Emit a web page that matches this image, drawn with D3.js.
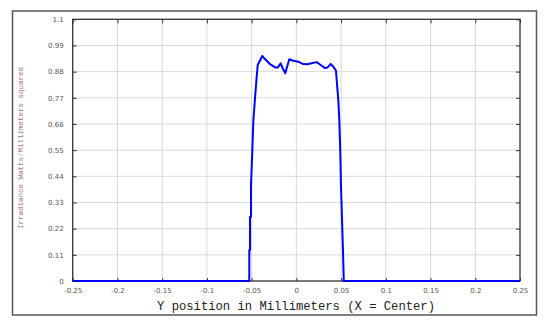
<!DOCTYPE html>
<html><head><meta charset="utf-8">
<script src="https://cdn.jsdelivr.net/npm/d3@7"></script>
<style>body{margin:0;background:#fff}</style>
</head><body>
<svg id="c" width="550" height="330"></svg>
<script>
const xTicks = [-0.25,-0.2,-0.15,-0.1,-0.05,0,0.05,0.1,0.15,0.2,0.25];
const yTicks = [0,0.11,0.22,0.33,0.44,0.55,0.66,0.77,0.88,0.99,1.1];
const posX = [-0.25,-0.0526,-0.0526,-0.0518,-0.0518,-0.0507,-0.0507,-0.0493,-0.0481,-0.0462,-0.0443,-0.0432,-0.0381,-0.0351,-0.0295,-0.0231,-0.0209,-0.0175,-0.0153,-0.0124,-0.0079,-0.0034,0.0022,0.0077,0.0122,0.0171,0.0227,0.0272,0.0320,0.0346,0.0384,0.0413,0.0443,0.0451,0.0469,0.0480,0.0491,0.0499,0.0510,0.0521,0.0529,0.0529,0.25];
const irradiance = [0,0,0.13,0.13,0.27,0.27,0.40,0.54,0.67,0.77,0.86,0.908,0.946,0.933,0.912,0.897,0.897,0.915,0.894,0.873,0.932,0.926,0.922,0.912,0.911,0.915,0.92,0.908,0.895,0.897,0.912,0.901,0.884,0.845,0.76,0.677,0.543,0.40,0.265,0.13,0.02,0,0];

const svg = d3.select("#c");
const L=72.7, R=520, T=19.3, B=281;
const x = d3.scaleLinear().domain([-0.25,0.25]).range([L,R]);
const y = d3.scaleLinear().domain([0,1.1]).range([B,T]);

// outer frame
svg.append("rect").attr("x",12.5).attr("y",11).attr("width",524).attr("height",304)
  .attr("fill","#fff").attr("stroke","#555").attr("stroke-width",1.5);

// grid
svg.append("g").selectAll("line").data(xTicks.slice(1,-1)).join("line")
  .attr("x1",d=>x(d)).attr("x2",d=>x(d)).attr("y1",T).attr("y2",B)
  .attr("stroke","#d8d8d8").attr("stroke-width",1);
svg.append("g").selectAll("line").data(yTicks.slice(1,-1)).join("line")
  .attr("y1",d=>y(d)).attr("y2",d=>y(d)).attr("x1",L).attr("x2",R)
  .attr("stroke","#d8d8d8").attr("stroke-width",1);

// axes with inner ticks
const fmt = d=>String(+d.toFixed(2));
const gB = svg.append("g").attr("transform",`translate(0,${B})`)
  .call(d3.axisBottom(x).tickValues(xTicks).tickSize(-3).tickPadding(7).tickFormat(fmt));
const gT = svg.append("g").attr("transform",`translate(0,${T})`)
  .call(d3.axisTop(x).tickValues(xTicks).tickSize(-4).tickFormat(""));
const gL = svg.append("g").attr("transform",`translate(${L},0)`)
  .call(d3.axisLeft(y).tickValues(yTicks).tickSize(-4).tickPadding(9).tickFormat(fmt));
const gR = svg.append("g").attr("transform",`translate(${R},0)`)
  .call(d3.axisRight(y).tickValues(yTicks).tickSize(-4).tickFormat(""));
[gB,gT,gL,gR].forEach(g=>{
  g.select(".domain").remove();
  g.selectAll(".tick line").attr("stroke","#333");
  g.selectAll("text").attr("fill","#555").attr("font-family","DejaVu Sans").attr("font-size",7);
});

// plot border
svg.append("rect").attr("x",L).attr("y",T).attr("width",R-L).attr("height",B-T)
  .attr("fill","none").attr("stroke","#333").attr("stroke-width",1.3);

// line
const line = d3.line().x((d,i)=>x(posX[i])).y(d=>y(d));
svg.append("path").datum(irradiance).attr("d",line)
  .attr("fill","none").attr("stroke","#0000ff").attr("stroke-width",2).attr("stroke-linejoin","round");

// titles
svg.append("text").attr("x",296).attr("y",310).attr("text-anchor","middle")
  .attr("font-family","Liberation Mono").attr("font-size",12.2).attr("fill","#222")
  .text("Y position in Millimeters (X = Center)");
svg.append("text").attr("transform",`translate(23,148) rotate(-90)`).attr("text-anchor","middle")
  .attr("font-family","Liberation Mono").attr("font-size",7.5).attr("fill","#a07070")
  .text("Irradiance Watts/Millimeters squared");
</script>
</body></html>
